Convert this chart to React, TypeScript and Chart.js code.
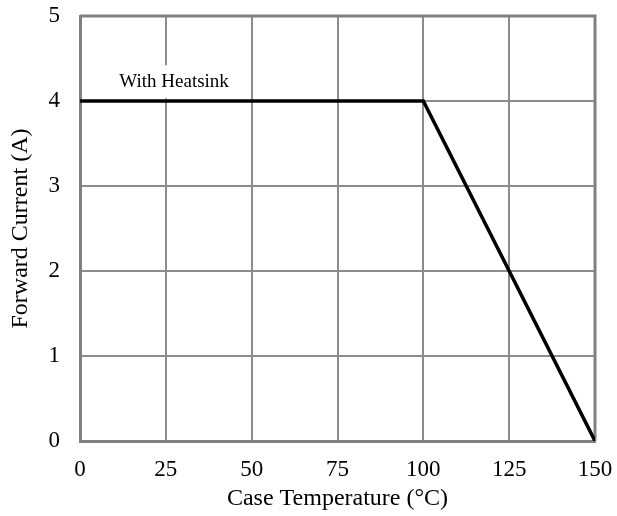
import React, { useEffect, useRef } from "react";
import { Chart, registerables } from "chart.js";

Chart.register(...registerables);

const temperatures = [0, 100, 150];
const currents = [4, 4, 0];
const xTicks = [0, 25, 50, 75, 100, 125, 150];
const yTicks = [0, 1, 2, 3, 4, 5];
const labelText = "With Heatsink";
const labelPos = { x: 27.4, y: 4.22 };

const FONT = "'Liberation Serif', 'Times New Roman', serif";

const labelPlugin = {
  id: "heatsinkLabel",
  beforeDatasetsDraw(chart: any) {
    const { ctx, scales } = chart;
    const px = scales.x.getPixelForValue(labelPos.x);
    const py = scales.y.getPixelForValue(labelPos.y);
    ctx.save();
    ctx.font = `19px ${FONT}`;
    const w = ctx.measureText(labelText).width;
    ctx.fillStyle = "#ffffff";
    ctx.fillRect(px - w / 2 - 3, py - 17, w + 6, 33);
    ctx.restore();
  },
  afterDatasetsDraw(chart: any) {
    const { ctx, scales } = chart;
    const px = scales.x.getPixelForValue(labelPos.x);
    const py = scales.y.getPixelForValue(labelPos.y);
    ctx.save();
    ctx.font = `19px ${FONT}`;
    ctx.fillStyle = "#000000";
    ctx.textAlign = "center";
    ctx.textBaseline = "middle";
    ctx.fillText(labelText, px, py);
    ctx.restore();
  },
};

export default function App() {
  const ref = useRef<HTMLCanvasElement>(null);
  useEffect(() => {
    document.body.style.margin = "0";
    const chart = new Chart(ref.current!, {
      type: "scatter",
      data: {
        datasets: [
          {
            data: temperatures.map((t, i) => ({ x: t, y: currents[i] })),
            showLine: true,
            borderColor: "#000000",
            borderWidth: 3.5,
            pointRadius: 0,
            fill: false,
            tension: 0,
          },
        ],
      },
      options: {
        animation: false,
        responsive: false,
        layout: { padding: { top: 16, right: 22, left: 0, bottom: 0 } },
        plugins: { legend: { display: false }, tooltip: { enabled: false } },
        scales: {
          x: {
            type: "linear",
            min: 0,
            max: 150,
            afterBuildTicks: (s: any) => {
              s.ticks = xTicks.map((v) => ({ value: v }));
            },
            afterFit: (s: any) => {
              s.height = 75;
              s.paddingLeft = 0;
              s.paddingRight = 0;
            },
            ticks: {
              color: "#000",
              font: { family: FONT, size: 23 },
              padding: 15,
              maxRotation: 0,
              autoSkip: false,
            },
            grid: { color: "#8c8c8c", lineWidth: 2, drawTicks: false },
            border: { color: "#808080", width: 3 },
            title: {
              display: true,
              text: "Case Temperature (°C)",
              color: "#000",
              font: { family: FONT, size: 24 },
              padding: { top: 0, bottom: 3 },
            },
          },
          y: {
            type: "linear",
            min: 0,
            max: 5,
            afterBuildTicks: (s: any) => {
              s.ticks = yTicks.map((v) => ({ value: v }));
            },
            afterFit: (s: any) => {
              s.width = 80;
              s.paddingTop = 0;
              s.paddingBottom = 0;
            },
            ticks: {
              color: "#000",
              font: { family: FONT, size: 23 },
              padding: 20,
              autoSkip: false,
            },
            grid: { color: "#8c8c8c", lineWidth: 2, drawTicks: false },
            border: { color: "#808080", width: 3 },
            title: {
              display: true,
              text: "Forward Current (A)",
              color: "#000",
              font: { family: FONT, size: 24 },
              padding: { top: 6, bottom: 0 },
            },
          },
        },
      },
      plugins: [
        labelPlugin,
        {
          id: "rightTopBorder",
          beforeDatasetsDraw(chart: any) {
            const { ctx, chartArea } = chart;
            ctx.save();
            ctx.strokeStyle = "#808080";
            ctx.lineWidth = 3;
            ctx.beginPath();
            ctx.moveTo(chartArea.left, chartArea.top);
            ctx.lineTo(chartArea.right, chartArea.top);
            ctx.lineTo(chartArea.right, chartArea.bottom);
            ctx.stroke();
            ctx.restore();
          },
        },
      ],
    });
    return () => chart.destroy();
  }, []);
  return <canvas ref={ref} width={617} height={516} style={{ display: "block" }} />;
}
